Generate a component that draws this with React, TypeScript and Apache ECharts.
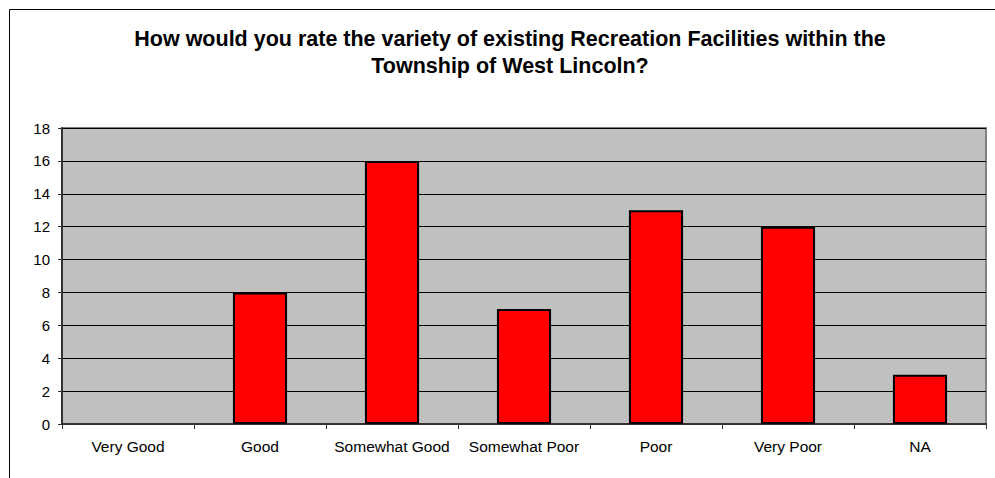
import React, { useEffect, useRef } from "react";
import * as echarts from "echarts";

const categories = ["Very Good", "Good", "Somewhat Good", "Somewhat Poor", "Poor", "Very Poor", "NA"];
const values = [0, 8, 16, 7, 13, 12, 3];
const titleLines = [
  "How would you rate the variety of existing Recreation Facilities within the",
  "Township of West Lincoln?",
];

const FONT = "'Liberation Sans', Arial, sans-serif";

export default function App() {
  const ref = useRef<HTMLDivElement>(null);
  useEffect(() => {
    if (!ref.current) return;
    const chart = echarts.init(ref.current, null, { renderer: "svg" });
    chart.setOption({
      animation: false,
      backgroundColor: "#ffffff",
      textStyle: { fontFamily: FONT },
      title: {
        text: titleLines.join("\n"),
        left: 505,
        textAlign: "center",
        top: 20,
        textStyle: {
          fontFamily: FONT,
          fontSize: 21.5,
          fontWeight: "bold",
          color: "#000000",
          lineHeight: 27,
        },
      },
      graphic: [
        {
          type: "rect",
          shape: { x: 9.5, y: 9.5, width: 1100, height: 600 },
          style: { fill: "none", stroke: "#000000", lineWidth: 1 },
          silent: true,
          z: 100,
        },
      ],
      grid: {
        left: 62,
        top: 128,
        right: 9,
        bottom: 54,
        show: true,
        backgroundColor: "#c0c0c0",
        borderColor: "#808080",
        borderWidth: 2,
      },
      xAxis: {
        type: "category",
        data: categories,
        axisLine: { show: true, lineStyle: { color: "#333333", width: 2 } },
        axisTick: { show: true, length: 5, lineStyle: { color: "#333333", width: 1 } },
        axisLabel: {
          color: "#000000",
          fontSize: 15.5,
          margin: 14,
          interval: 0,
          fontFamily: FONT,
        },
        splitLine: { show: false },
      },
      yAxis: {
        type: "value",
        min: 0,
        max: 18,
        interval: 2,
        axisLine: { show: true, lineStyle: { color: "#333333", width: 2 } },
        axisTick: { show: true, length: 4, lineStyle: { color: "#333333", width: 1 } },
        axisLabel: {
          color: "#000000",
          fontSize: 15,
          margin: 12,
          fontFamily: FONT,
        },
        splitLine: { show: true, lineStyle: { color: "#000000", width: 1 } },
      },
      series: [
        {
          type: "bar",
          data: values.map((v) => ({
            value: v,
            itemStyle: v === 0 ? { borderWidth: 0 } : undefined,
          })),
          barWidth: "41%",
          itemStyle: { color: "#ff0000", borderColor: "#000000", borderWidth: 2 },
        },
      ],
    });
    return () => chart.dispose();
  }, []);
  return (
    <div
      ref={ref}
      style={{ position: "fixed", left: 0, top: 0, width: 995, height: 478 }}
    />
  );
}
